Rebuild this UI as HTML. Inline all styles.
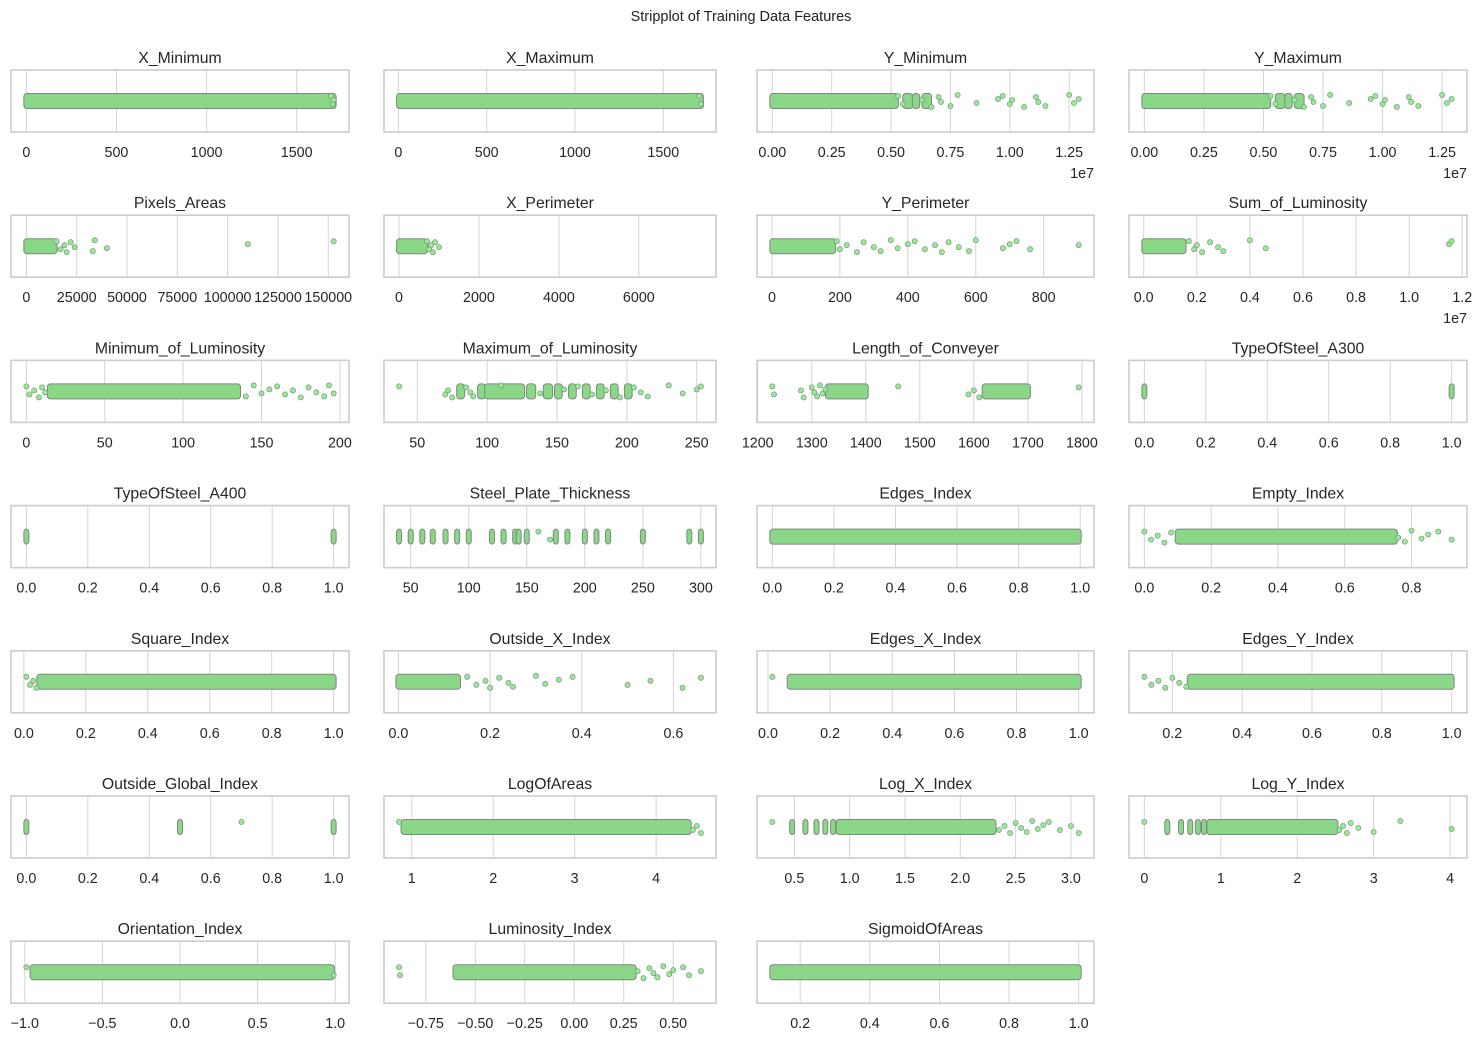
<!DOCTYPE html>
<html><head><meta charset="utf-8"><style>
body{margin:0;background:#fff}
svg{display:block;font-family:"Liberation Sans",Arial,sans-serif}
</style></head><body>
<svg id="chart" width="1482" height="1041" viewBox="0 0 1482 1041">
<text x="741" y="21" text-anchor="middle" font-size="14.5" fill="#222">Stripplot of Training Data Features</text>
</svg>
<script>
const titles=["X_Minimum","X_Maximum","Y_Minimum","Y_Maximum","Pixels_Areas","X_Perimeter","Y_Perimeter","Sum_of_Luminosity","Minimum_of_Luminosity","Maximum_of_Luminosity","Length_of_Conveyer","TypeOfSteel_A300","TypeOfSteel_A400","Steel_Plate_Thickness","Edges_Index","Empty_Index","Square_Index","Outside_X_Index","Edges_X_Index","Edges_Y_Index","Outside_Global_Index","LogOfAreas","Log_X_Index","Log_Y_Index","Orientation_Index","Luminosity_Index","SigmoidOfAreas"];
const extents=[[0,1705],[4,1713],[0,1.29],[0,1.29],[2,152655],[2,7553],[1,903],[0.0025,1.16],[0,196],[37,253],[1227,1794],[0,1],[0,1],[40,300],[0,0.995],[0,0.92],[0.008,1],[0.0015,0.66],[0.014,1],[0.12,1],[0,1],[0.845,4.55],[0.301,3.07],[0,4.02],[-0.99,0.99],[-0.885,0.64],[0.12,1]];
const ticks=[[0,500,1000,1500],[0,500,1000,1500],[0,0.25,0.5,0.75,1,1.25],[0,0.25,0.5,0.75,1,1.25],[0,25000,50000,75000,100000,125000,150000],[0,2000,4000,6000],[0,200,400,600,800],[0,0.2,0.4,0.6,0.8,1,1.2],[0,50,100,150,200],[50,100,150,200,250],[1200,1300,1400,1500,1600,1700,1800],[0,0.2,0.4,0.6,0.8,1],[0,0.2,0.4,0.6,0.8,1],[50,100,150,200,250,300],[0,0.2,0.4,0.6,0.8,1],[0,0.2,0.4,0.6,0.8],[0,0.2,0.4,0.6,0.8,1],[0,0.2,0.4,0.6],[0,0.2,0.4,0.6,0.8,1],[0.2,0.4,0.6,0.8,1],[0,0.2,0.4,0.6,0.8,1],[1,2,3,4],[0.5,1,1.5,2,2.5,3],[0,1,2,3,4],[-1,-0.5,0,0.5,1],[-0.75,-0.5,-0.25,0,0.25,0.5],[0.2,0.4,0.6,0.8,1]];
const tickLabels=[["0","500","1000","1500"],["0","500","1000","1500"],["0.00","0.25","0.50","0.75","1.00","1.25"],["0.00","0.25","0.50","0.75","1.00","1.25"],["0","25000","50000","75000","100000","125000","150000"],["0","2000","4000","6000"],["0","200","400","600","800"],["0.0","0.2","0.4","0.6","0.8","1.0","1.2"],["0","50","100","150","200"],["50","100","150","200","250"],["1200","1300","1400","1500","1600","1700","1800"],["0.0","0.2","0.4","0.6","0.8","1.0"],["0.0","0.2","0.4","0.6","0.8","1.0"],["50","100","150","200","250","300"],["0.0","0.2","0.4","0.6","0.8","1.0"],["0.0","0.2","0.4","0.6","0.8"],["0.0","0.2","0.4","0.6","0.8","1.0"],["0.0","0.2","0.4","0.6"],["0.0","0.2","0.4","0.6","0.8","1.0"],["0.2","0.4","0.6","0.8","1.0"],["0.0","0.2","0.4","0.6","0.8","1.0"],["1","2","3","4"],["0.5","1.0","1.5","2.0","2.5","3.0"],["0","1","2","3","4"],["−1.0","−0.5","0.0","0.5","1.0"],["−0.75","−0.50","−0.25","0.00","0.25","0.50"],["0.2","0.4","0.6","0.8","1.0"]];
const offsets=["","","1e7","1e7","","","","1e7","","","","","","","","","","","","","","","","","","",""];
const bands=[[[0,1705]],[[4,1713]],[[0,0.52],[0.56,0.58],[0.6,0.61],[0.64,0.66]],[[0,0.52],[0.56,0.58],[0.6,0.61],[0.64,0.66]],[[2,14000]],[[2,650]],[[1,180]],[[0.0025,0.15]],[[15,135]],[[80,82],[95,97],[100,125],[130,133],[142,145],[150,152],[160,162],[170,172],[180,182],[190,192],[200,202]],[[1330,1400],[1620,1700]],[[0,0],[1,1]],[[0,0],[1,1]],[[40,40],[50,50],[60,60],[69,69],[80,80],[90,90],[100,100],[120,120],[130,130],[140,140],[143,143],[150,150],[175,175],[185,185],[200,200],[210,210],[220,220],[250,250],[290,290],[300,300]],[[0,0.995]],[[0.1,0.75]],[[0.05,1]],[[0,0.13]],[[0.07,1]],[[0.25,1]],[[0,0],[0.5,0.5],[1,1]],[[0.9,4.4]],[[0.48,0.48],[0.6,0.6],[0.7,0.7],[0.78,0.78],[0.85,0.85],[0.9,2.3]],[[0.3,0.3],[0.48,0.48],[0.6,0.6],[0.7,0.7],[0.78,0.78],[0.85,2.5]],[[-0.95,0.98]],[[-0.6,0.3]],[[0.12,1]]];
const points=[[1690,1700,1705],[1705,1713],[0.53,0.55,0.63,0.67,0.7,0.71,0.75,0.78,0.86,0.95,0.97,1.0,1.01,1.06,1.11,1.12,1.15,1.25,1.27,1.29],[0.53,0.55,0.63,0.67,0.7,0.71,0.75,0.78,0.86,0.95,0.97,1.0,1.01,1.06,1.11,1.12,1.15,1.25,1.27,1.29],[15000,17000,19000,20000,22000,24000,33000,34000,40000,110000,152655],[700,750,800,850,900,1000],[190,200,220,250,270,300,320,350,370,400,420,450,480,500,520,550,580,600,680,700,720,760,903],[0.17,0.19,0.2,0.22,0.25,0.28,0.3,0.4,0.46,1.15,1.16],[0,2,5,8,10,12,140,145,150,155,160,165,170,175,180,185,190,193,196],[37,70,72,75,85,88,90,110,138,155,165,175,185,195,205,210,215,230,240,250,253],[1227,1230,1280,1285,1300,1305,1310,1315,1320,1325,1460,1590,1600,1610,1794],[],[],[160,170],[],[0,0.02,0.04,0.06,0.08,0.76,0.78,0.8,0.83,0.85,0.88,0.92],[0.008,0.02,0.03,0.04],[0.15,0.17,0.19,0.2,0.22,0.24,0.25,0.3,0.32,0.35,0.38,0.5,0.55,0.62,0.66],[0.014],[0.12,0.14,0.16,0.18,0.2,0.22,0.24],[0.7],[0.845,4.45,4.5,4.55],[0.301,2.35,2.4,2.45,2.5,2.55,2.6,2.65,2.7,2.75,2.8,2.9,3.0,3.07],[0,2.55,2.6,2.65,2.7,2.8,3.0,3.35,4.02],[-0.99,0.99],[-0.885,-0.88,0.32,0.35,0.38,0.4,0.42,0.45,0.48,0.5,0.55,0.58,0.64],[]];

const svg=document.getElementById('chart');
const NS='http://www.w3.org/2000/svg';
const colL=[11,384,757,1129], colR=[349,716,1094,1467];
const jit=[-5,3,-1,6,-4,1,5,-6,2,-2];
function mk(tag,attrs,parent){const e=document.createElementNS(NS,tag);for(const k in attrs)e.setAttribute(k,attrs[k]);(parent||svg).appendChild(e);return e;}
titles.forEach((t,i)=>{
  const c=i%4,r=Math.floor(i/4);
  const L=colL[c],R=colR[c],T=70+145.2*r,B=T+62,cy=T+31;
  const [mn,mx]=extents[i];const sp=mx-mn;const a0=mn-0.05*sp,a1=mx+0.05*sp;
  const X=v=>L+(v-a0)/(a1-a0)*(R-L);
  const g=mk('g',{});
  
  
  ticks[i].forEach((tv,k)=>{
    const x=X(tv);
    const gl=mk('line',{x1:x,x2:x,y1:T,y2:B,stroke:'#d4d4d4','stroke-width':1},g);
    
    
    const tl=mk('text',{x:x,y:B+25,'text-anchor':'middle','font-size':14.3,fill:'#262626'},g);
    
    
    tl.textContent=tickLabels[i][k];
  });
  const bx=mk('rect',{x:L,y:T,width:R-L,height:B-T,fill:'none',stroke:'#cccccc','stroke-width':1.6},g);
  
  
  const tt=mk('text',{x:(L+R)/2,y:T-7,'text-anchor':'middle','font-size':15.8,fill:'#262626'},g);
  
  
  tt.textContent=t;
  if(offsets[i]){const o=mk('text',{x:R,y:B+46,'text-anchor':'end','font-size':14.3,fill:'#262626'},g);
    
    
    o.textContent=offsets[i];}
  bands[i].forEach(b=>{
    let x0=X(b[0])-2.5,x1=X(b[1])+2.5;
    const br=mk('rect',{x:x0,y:cy-7.5,width:x1-x0,height:15,rx:3,fill:'#8ad887',stroke:'#7d877d','stroke-width':1},g);
    
    
  });
  points[i].forEach((p,k)=>{
    const pt=mk('circle',{cx:X(p),cy:cy+jit[k%10],r:2.6,fill:'#90ee90',stroke:'#7f7f7f','stroke-width':0.6},g);
    
    
  });
});
</script>
</body></html>
